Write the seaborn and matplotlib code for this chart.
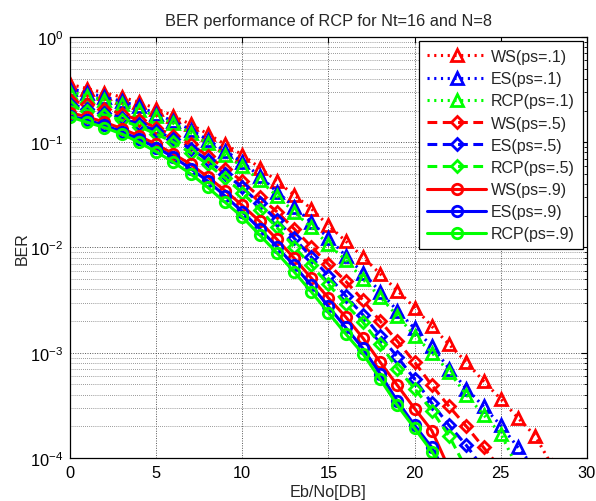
import matplotlib
matplotlib.use('Agg')
import matplotlib.pyplot as plt
import seaborn as sns
from matplotlib.ticker import LogLocator, FixedLocator, NullFormatter

# Eb/No axis (dB)
snr = list(range(0, 29))

# BER values (p_s = .1, dotted / triangles)
ws_01 = [3.55e-1, 3.24e-1, 2.95e-1, 2.69e-1, 2.40e-1, 2.09e-1, 1.78e-1, 1.48e-1, 1.20e-1, 9.55e-2,
         7.59e-2, 5.75e-2, 4.27e-2, 3.16e-2, 2.34e-2, 1.62e-2, 1.15e-2, 8.13e-3, 5.62e-3, 3.89e-3,
         2.69e-3, 1.78e-3, 1.20e-3, 8.13e-4, 5.37e-4, 3.63e-4, 2.40e-4, 1.62e-4, 8.3e-5]
es_01 = [3.24e-1, 2.95e-1, 2.69e-1, 2.45e-1, 2.19e-1, 1.86e-1, 1.58e-1, 1.32e-1, 1.05e-1, 8.32e-2,
         6.46e-2, 4.79e-2, 3.39e-2, 2.45e-2, 1.74e-2, 1.23e-2, 8.32e-3, 5.75e-3, 3.80e-3, 2.51e-3,
         1.70e-3, 1.15e-3, 7.08e-4, 4.57e-4, 3.09e-4, 2.04e-4, 1.26e-4, 7.9e-5]
rcp_01 = [3.02e-1, 2.75e-1, 2.51e-1, 2.29e-1, 2.04e-1, 1.78e-1, 1.51e-1, 1.23e-1, 9.77e-2, 7.59e-2,
          5.89e-2, 4.37e-2, 3.09e-2, 2.19e-2, 1.55e-2, 1.07e-2, 7.59e-3, 5.01e-3, 3.39e-3, 2.24e-3,
          1.45e-3, 1.00e-3, 6.61e-4, 3.98e-4, 2.57e-4, 1.70e-4, 7.9e-5]

# p_s = .5, dashed / diamonds
ws_05 = [2.51e-1, 2.29e-1, 2.09e-1, 1.86e-1, 1.62e-1, 1.38e-1, 1.15e-1, 9.55e-2, 7.41e-2, 5.62e-2,
         4.27e-2, 3.02e-2, 2.19e-2, 1.51e-2, 1.02e-2, 6.92e-3, 4.79e-3, 3.16e-3, 2.00e-3, 1.29e-3,
         8.13e-4, 4.90e-4, 3.09e-4, 2.00e-4, 1.26e-4, 7.9e-5]
es_05 = [2.29e-1, 2.09e-1, 1.91e-1, 1.70e-1, 1.48e-1, 1.29e-1, 1.07e-1, 8.71e-2, 6.76e-2, 5.01e-2,
         3.72e-2, 2.63e-2, 1.82e-2, 1.23e-2, 8.13e-3, 5.37e-3, 3.47e-3, 2.29e-3, 1.45e-3, 9.12e-4,
         5.62e-4, 3.31e-4, 2.04e-4, 1.32e-4, 7.9e-5]
rcp_05 = [2.19e-1, 2.00e-1, 1.82e-1, 1.62e-1, 1.41e-1, 1.20e-1, 1.00e-1, 7.94e-2, 6.17e-2, 4.57e-2,
          3.31e-2, 2.29e-2, 1.55e-2, 1.02e-2, 6.76e-3, 4.47e-3, 2.88e-3, 1.95e-3, 1.20e-3, 7.08e-4,
          4.57e-4, 2.82e-4, 1.62e-4, 7.9e-5]

# p_s = .9, solid / circles
ws_09 = [1.91e-1, 1.74e-1, 1.55e-1, 1.35e-1, 1.15e-1, 9.55e-2, 7.76e-2, 6.17e-2, 4.68e-2, 3.47e-2,
         2.51e-2, 1.78e-2, 1.20e-2, 7.94e-3, 5.13e-3, 3.31e-3, 2.19e-3, 1.38e-3, 8.13e-4, 4.90e-4,
         2.95e-4, 1.82e-4, 7.9e-5]
es_09 = [1.78e-1, 1.62e-1, 1.45e-1, 1.26e-1, 1.07e-1, 8.91e-2, 7.24e-2, 5.62e-2, 4.27e-2, 3.09e-2,
         2.19e-2, 1.51e-2, 1.02e-2, 6.76e-3, 4.37e-3, 2.75e-3, 1.74e-3, 1.10e-3, 6.31e-4, 3.47e-4,
         2.04e-4, 1.26e-4, 6.3e-5]
rcp_09 = [1.74e-1, 1.55e-1, 1.38e-1, 1.20e-1, 1.00e-1, 8.13e-2, 6.46e-2, 5.01e-2, 3.72e-2, 2.69e-2,
          1.95e-2, 1.32e-2, 8.91e-3, 5.89e-3, 3.80e-3, 2.40e-3, 1.51e-3, 9.77e-4, 5.62e-4, 3.16e-4,
          1.91e-4, 1.15e-4, 6.3e-5]

labels = ['WS(ps=.1)', 'ES(ps=.1)', 'RCP(ps=.1)',
          'WS(ps=.5)', 'ES(ps=.5)', 'RCP(ps=.5)',
          'WS(ps=.9)', 'ES(ps=.9)', 'RCP(ps=.9)']
series = [ws_01, es_01, rcp_01, ws_05, es_05, rcp_05, ws_09, es_09, rcp_09]

sns.set_style('white')
plt.rcParams['font.family'] = ['Liberation Sans', 'DejaVu Sans']
plt.rcParams['font.size'] = 11.5

colors = ['#ff0000', '#0000ff', '#00ff00']
styles = [(0, (0.7, 1.5)), (0, (3.2, 1.8)), '-']
markers = ['^', 'D', 'o']
msizes = [9, 6.5, 7.5]

fig = plt.figure(figsize=(5.96, 5.02), dpi=100)
ax = fig.add_axes([0.1174, 0.0857, 0.8674, 0.8386])
ax.set_yscale('log')

for i, (vals, lab) in enumerate(zip(series, labels)):
    g = i // 3
    sns.lineplot(x=snr[:len(vals)], y=vals, ax=ax, label=lab,
                 color=colors[i % 3], linestyle=styles[g], linewidth=2.2,
                 marker=markers[g], markersize=msizes[g], markerfacecolor='none',
                 markeredgewidth=2.0, markeredgecolor=colors[i % 3])

ax.set_xlim(0, 30)
ax.set_ylim(1e-4, 1)
ax.xaxis.set_major_locator(FixedLocator([0, 5, 10, 15, 20, 25, 30]))
ax.yaxis.set_major_locator(LogLocator(base=10, numticks=10))
ax.yaxis.set_minor_locator(LogLocator(base=10, subs=range(2, 10), numticks=20))
ax.yaxis.set_minor_formatter(NullFormatter())

ax.grid(True, which='major', axis='both', color='#555555', linestyle=(0, (1, 1.5)), linewidth=0.7)
ax.grid(True, which='minor', axis='y', color='#777777', linestyle=(0, (1, 1.5)), linewidth=0.6)
ax.tick_params(which='both', direction='in', top=True, right=True, colors='black', labelsize=11.8)
ax.tick_params(which='major', length=4, width=0.8, pad=5)
ax.tick_params(which='minor', length=2, width=0.6)
for s in ax.spines.values():
    s.set_color('black')
    s.set_linewidth(0.9)

ax.set_title('BER performance of RCP for Nt=16 and N=8', fontsize=11.8, pad=9)
ax.set_xlabel('Eb/No[DB]', fontsize=11.7, labelpad=3)
ax.set_ylabel('BER', fontsize=11.5)
ax.yaxis.set_label_coords(-0.077, 0.5)

leg = ax.legend(loc='upper right', handlelength=3.7, labelspacing=0.45, borderpad=0.5,
                borderaxespad=0.25, handletextpad=0.3, fancybox=False, framealpha=1,
                edgecolor='black', fontsize=11.5)
leg.get_frame().set_linewidth(0.9)

fig.savefig('out.png', dpi=100)
